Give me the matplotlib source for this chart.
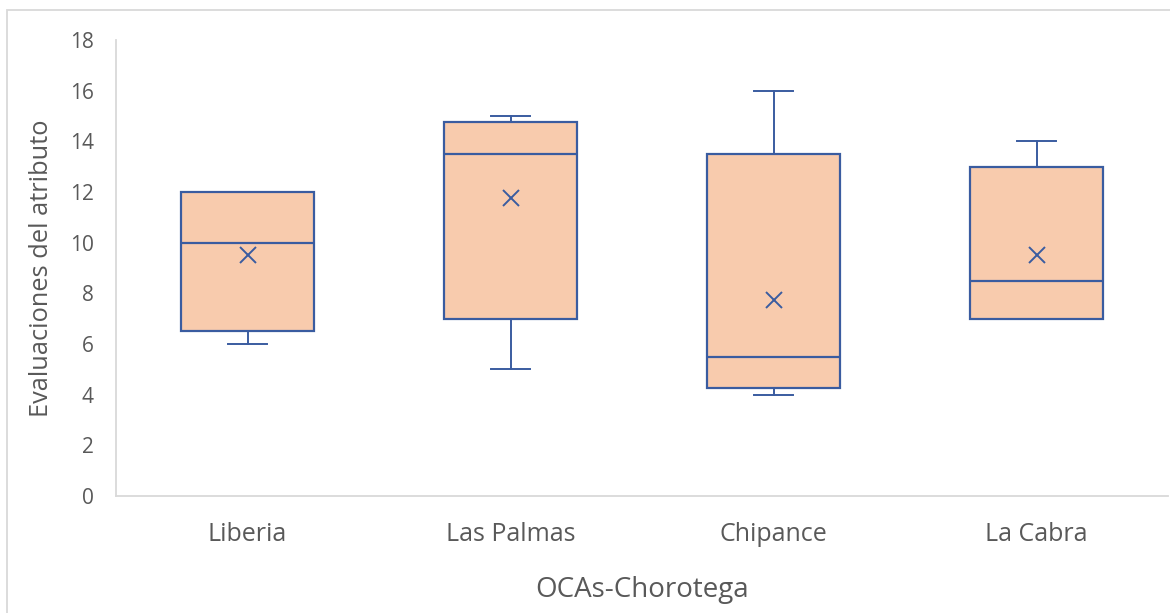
import matplotlib
matplotlib.use("Agg")
import matplotlib.pyplot as plt
from matplotlib.patches import Rectangle

# Box-plot summaries per OCA
categories = ["Liberia", "Las Palmas", "Chipance", "La Cabra"]
whisker_low = [6.0, 5.0, 4.0, 7.0]
q1 = [6.5, 7.0, 4.25, 7.0]
median = [10.0, 13.5, 5.5, 8.5]
q3 = [12.0, 14.75, 13.5, 13.0]
whisker_high = [12.0, 15.0, 16.0, 14.0]
mean = [9.5, 11.75, 7.75, 9.5]

y_ticks = [0, 2, 4, 6, 8, 10, 12, 14, 16, 18]

FILL = "#F8CBAD"
EDGE = "#3A5CA0"
AXIS = "#D9D9D9"
TEXT = "#595959"

plt.rcParams["font.family"] = ["Open Sans", "DejaVu Sans"]

fig = plt.figure(figsize=(11.7, 6.13), dpi=100)
ax = fig.add_axes([116 / 1170, 1 - 496 / 613, (1168 - 116) / 1170, (496 - 40) / 613])

stats = []
for i, name in enumerate(categories):
    stats.append(dict(label=name, whislo=whisker_low[i], q1=q1[i], med=median[i],
                      q3=q3[i], whishi=whisker_high[i], mean=mean[i], fliers=[]))

positions = list(range(1, len(categories) + 1))
ax.bxp(stats, positions=positions, widths=0.505, patch_artist=True,
       showmeans=True, showfliers=False,
       boxprops=dict(facecolor=FILL, edgecolor=EDGE, linewidth=1.6),
       medianprops=dict(color=EDGE, linewidth=1.6),
       whiskerprops=dict(color=EDGE, linewidth=1.4),
       capprops=dict(color=EDGE, linewidth=1.4),
       capwidths=0.15,
       meanprops=dict(marker="x", markeredgecolor=EDGE, markersize=12,
                      markeredgewidth=1.4))

ax.set_xlim(0.5, len(categories) + 0.5)
ax.set_ylim(0, 18)
ax.set_yticks(y_ticks)
ax.set_xticks(positions)
ax.set_xticklabels(categories)

for side in ("top", "right"):
    ax.spines[side].set_visible(False)
for side in ("left", "bottom"):
    ax.spines[side].set_color(AXIS)
    ax.spines[side].set_linewidth(1.3)

ax.tick_params(axis="y", length=0, pad=16, labelsize=15, labelcolor=TEXT)
ax.tick_params(axis="x", length=0, pad=18.5, labelsize=18, labelcolor=TEXT)

ax.set_ylabel("Evaluaciones del atributo", fontsize=18.3, color=TEXT, labelpad=11)
ax.set_xlabel("OCAs-Chorotega", fontsize=20, color=TEXT, labelpad=21)

# Chart-area frame
fig.patches.append(Rectangle((6.5 / 1170, -0.05), 1.2, 1 - 9.5 / 613 + 0.05,
                             transform=fig.transFigure, fill=False,
                             edgecolor=AXIS, linewidth=1.3))

fig.savefig("out.png", dpi=100)
